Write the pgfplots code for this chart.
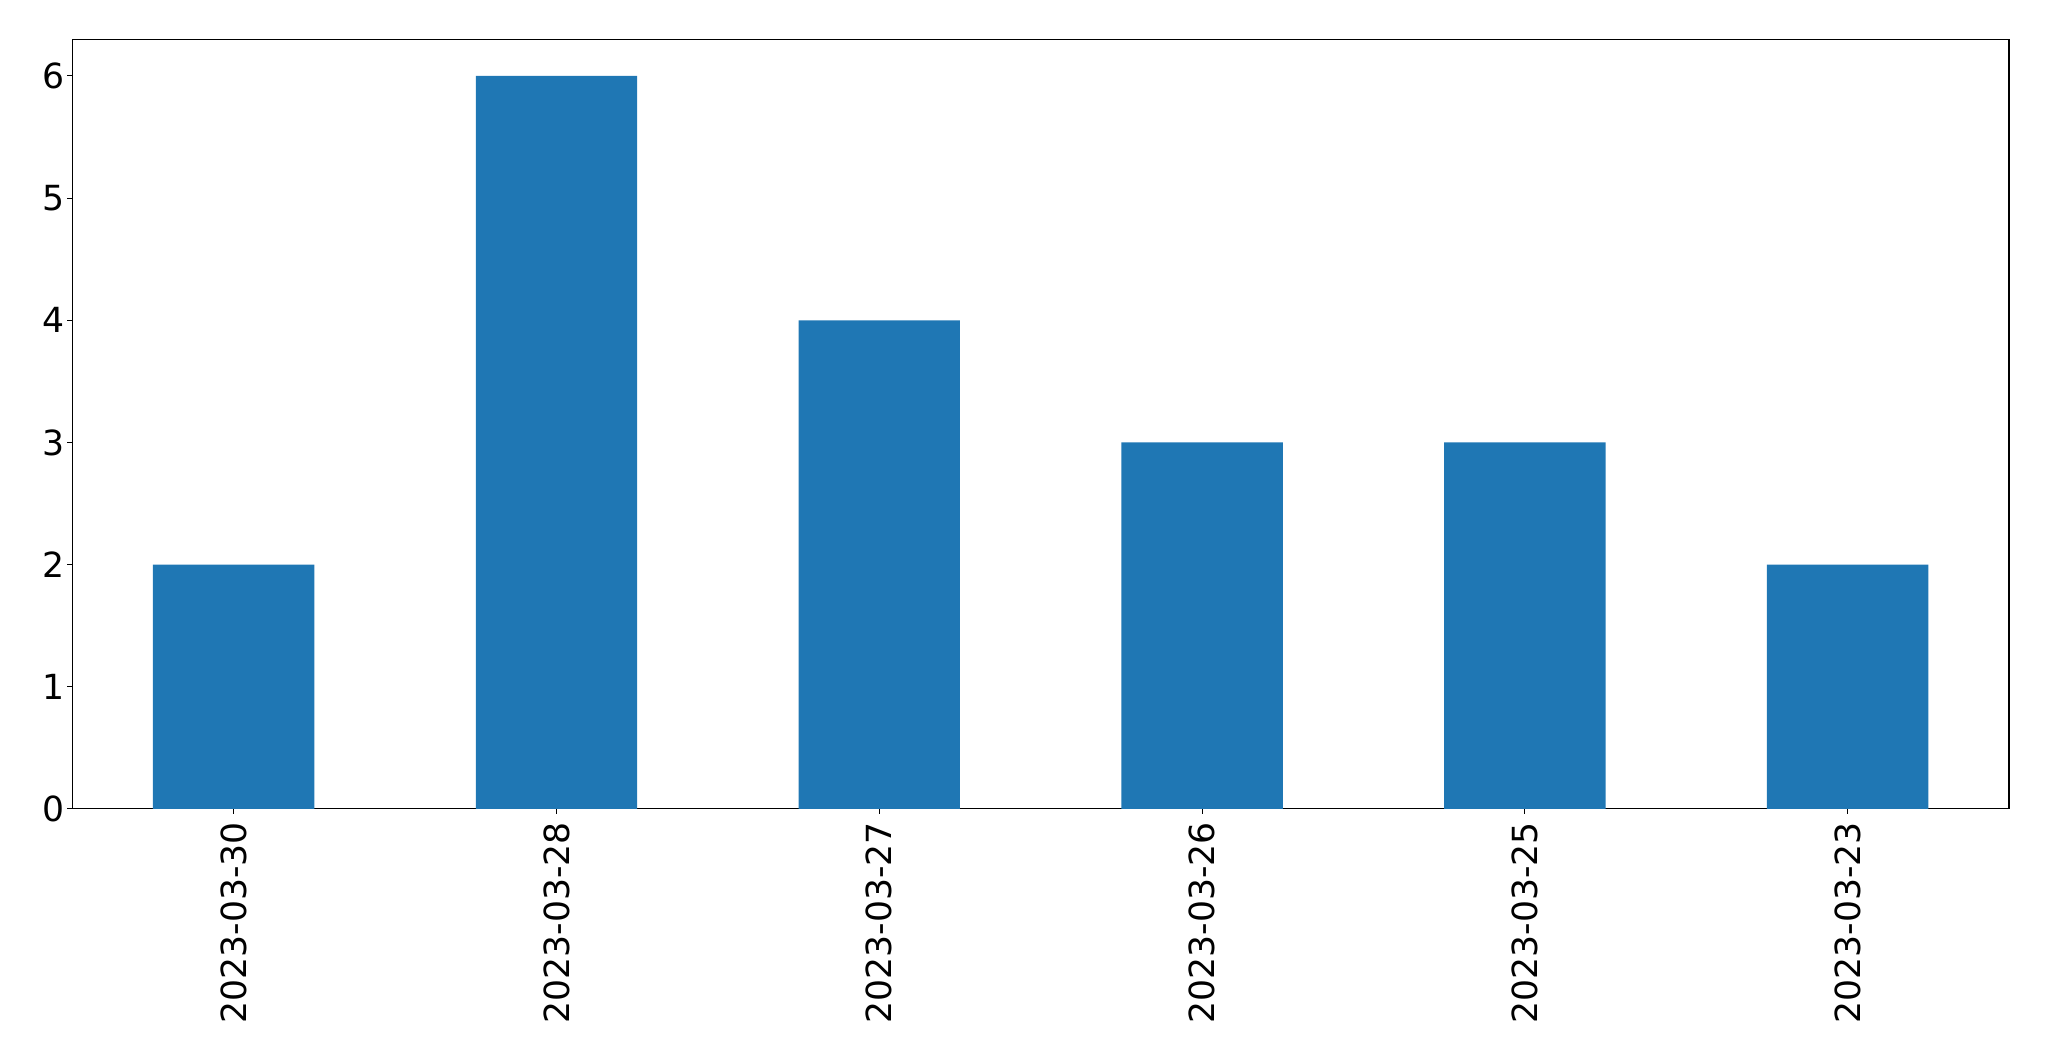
\documentclass[border=0pt]{standalone}
\usepackage{fontspec}
\setmainfont{DejaVu Sans}
\usepackage{pgfplots}
\pgfplotsset{compat=1.18}
\definecolor{mplblue}{HTML}{1F77B4}
\begin{document}
\begin{tikzpicture}
\useasboundingbox (-36.15pt,-126pt) rectangle (988.5pt,404.5pt);
\begin{axis}[
  at={(0,0)}, anchor=south west,
  scale only axis,
  width=968.5pt, height=384.85pt,
  xmin=-0.5, xmax=5.5, ymin=0, ymax=6.3,
  axis line style={line width=0.55pt},
  every tick/.style={line width=0.55pt, black},
  tick align=outside,
  major tick length=2.4pt,
  xtick={0,1,2,3,4,5},
  xticklabels={2023-03-30,2023-03-28,2023-03-27,2023-03-26,2023-03-25,2023-03-23},
  ytick={0,1,2,3,4,5,6},
  xtick pos=bottom, ytick pos=left,
  /pgf/number format/assume math mode=true,
  ticklabel style={font=\fontsize{17.3}{20}\selectfont},
  yticklabel style={inner sep=1.5pt},
  xticklabel style={rotate=90, anchor=east, inner sep=4pt},
]
\addplot[ybar, bar width=0.5, fill=mplblue, draw=none] coordinates {
(0,2) (1,6) (2,4) (3,3) (4,3) (5,2)
};
\end{axis}
\end{tikzpicture}
\end{document}
